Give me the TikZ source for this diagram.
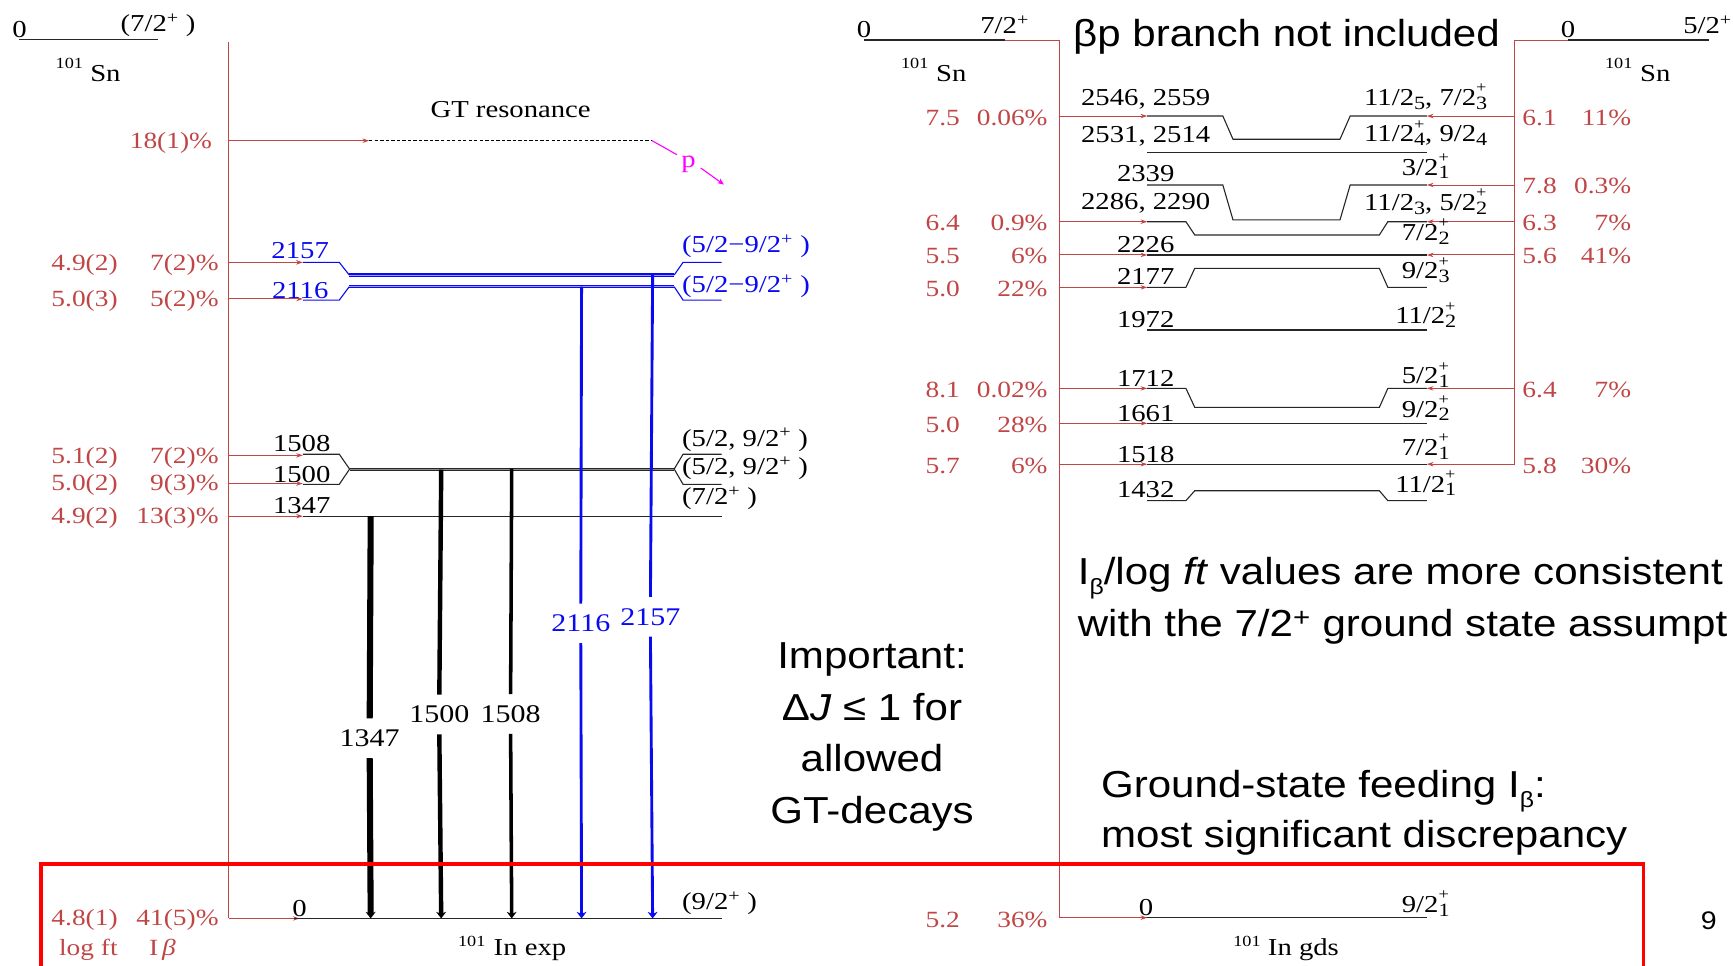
\documentclass[tikz,border=0pt]{standalone}
\usepackage{fontspec}
\setmainfont{Liberation Serif}
\newfontfamily\serfont[FakeStretch=1.18]{Liberation Serif}
\newfontfamily\sanfont[FakeStretch=1.12]{Liberation Sans}
\usetikzlibrary{arrows.meta}
\definecolor{rd}{RGB}{192,70,70}
\definecolor{bl}{RGB}{10,10,240}
\definecolor{mg}{RGB}{255,0,255}
\definecolor{boxred}{RGB}{255,0,0}
\newcommand{\jsp}[2]{\makebox[0pt][l]{\raisebox{0.52em}{\fontsize{14}{14}\selectfont #1}}\raisebox{-3.5pt}{\fontsize{17}{17}\selectfont #2}}
\newcommand{\jsb}[1]{\raisebox{-3.5pt}{\fontsize{17}{17}\selectfont #1}}
\begin{document}
\begin{tikzpicture}[x=1pt,y=-1pt,
  lbl/.style={font=\serfont\fontsize{22}{24}\selectfont, inner sep=0pt},
  sml/.style={font=\serfont\fontsize{14}{14}\selectfont, inner sep=0pt},
  rl/.style={font=\serfont\fontsize{21}{24}\selectfont, inner sep=0pt, text=rd},
  feed/.style={draw=rd, line width=0.9pt, -{Stealth[length=6pt,width=4pt]}},
  redl/.style={draw=rd, line width=0.9pt},
  lv/.style={draw=black!85, line width=1pt},
  lvdbl/.style={draw=black!85, double=black!45, double distance=0.8pt, line width=1pt},
  blv/.style={draw=bl, line width=1pt},
  bldbl/.style={draw=bl, double=bl!40, double distance=0.8pt, line width=1pt},
  gam/.style={line width=3.2pt, -{Stealth[length=6pt,width=9pt]}},
  gamtop/.style={line width=3.2pt},
  glab/.style={font=\serfont\fontsize{23}{24}\selectfont, inner xsep=1pt, inner ysep=10pt},
  big/.style={font=\sanfont\fontsize{34}{40}\selectfont, inner sep=0pt},
  spin/.style={lbl, anchor=base},
]
\useasboundingbox (0,0) rectangle (1568,874);

% ================= LEFT PANEL =================
\node[lbl] (ls0) at (17.6,27) {0};
\draw[lv] (17.6,36) -- (143,36);
\node[lbl] (lsj) at (143,22.6) {(7/2\textsuperscript{+} )};
\node[sml] (lsa) at (62.8,57.3) {101};
\node[lbl] (lsn) at (95.4,66.3) {Sn};
\draw[redl] (207,38) -- (207,831);

\node[lbl] (gt) at (462,99) {GT resonance};
\node[rl, anchor=east] (f18) at (192,129) {18(1)\%};
\coordinate (gtA) at (207,127.3);
\coordinate (gtB) at (334,127.3);
\coordinate (gtC) at (590,127.3);
\draw[feed] (gtA) -- (gtB);
\draw[densely dashed, line width=0.8pt] (gtB) -- (gtC);
\draw[mg, line width=1pt] (gtC) -- (612.5,140);
\node[lbl, text=mg] (pp) at (623,149) {p};
\draw[mg, line width=1pt, -{Stealth[length=6pt,width=5pt]}] (634,152) -- (655,167);

% blue levels
\draw[feed] (207,237.4) -- (274,237.4);
\draw[blv] (274,237.4) -- (307,237.4) -- (316,248.8);
\draw[bldbl] (316,248.8) -- (610,248.8);
\draw[blv] (610,248.8) -- (618,237.4) -- (653,237.4);
\draw[feed] (207,270.5) -- (274,270.5);
\draw[blv] (274,271.5) -- (307,271.5) -- (316,259.4);
\draw[bldbl] (316,259.4) -- (610,259.4);
\draw[blv] (610,259.4) -- (618,271.5) -- (653,271.5);
\node[lbl, text=bl] (l2157) at (271.6,226.5) {2157};
\node[lbl, text=bl] (l2116) at (271.6,262.5) {2116};
\node[lbl, text=bl, anchor=west] (j2157) at (617,223) {(5/2−9/2\textsuperscript{+} )};
\node[lbl, text=bl, anchor=west] (j2116) at (617,259) {(5/2−9/2\textsuperscript{+} )};

% black levels
\draw[feed] (207,412) -- (274,412);
\draw[feed] (207,437.5) -- (274,437.5);
\draw[lv] (274,411) -- (307,411) -- (316.3,424.4) -- (307,438.2) -- (274,438.2);
\draw[lvdbl] (316.3,424.4) -- (610,424.4);
\draw[lv] (653,411) -- (618,411) -- (610,424.4) -- (618,438.2) -- (653,438.2);
\draw[feed] (207,467) -- (274,467);
\draw[lv] (274,467) -- (653,467);
\node[lbl] (l1508) at (273,401.7) {1508};
\node[lbl] (l1500) at (273,429.5) {1500};
\node[lbl] (l1347) at (273,457.5) {1347};
\node[lbl, anchor=west] (j1508) at (617,398) {(5/2, 9/2\textsuperscript{+} )};
\node[lbl, anchor=west] (j1500) at (617,424) {(5/2, 9/2\textsuperscript{+} )};
\node[lbl, anchor=west] (j1347) at (617,451) {(7/2\textsuperscript{+} )};

% ground state In exp
\draw[feed] (207,831) -- (271,831);
\draw[lv] (266,831) -- (653,831);
\node[lbl] (l0) at (271,822) {0};
\node[lbl, anchor=west] (j0) at (617,817) {(9/2\textsuperscript{+} )};
\node[sml] (ina) at (426.8,852) {101};
\node[lbl] (inb) at (479.5,859.6) {In exp};

% gamma transitions
\node[glab] (g1347) at (334.5,668) {1347};
\draw[gamtop, line width=5.5pt] (335.4,467) -- (g1347.north);
\draw[gam, line width=5.5pt] (g1347.south) -- (335.4,831);
\node[glab] (g1500) at (397.5,646.5) {1500};
\draw[gamtop, line width=4pt] (399.2,425) -- (g1500.north);
\draw[gam, line width=4pt] (g1500.south) -- (399.2,831);
\node[glab] (g1508) at (462,646) {1508};
\draw[gamtop] (463,424) -- (g1508.north);
\draw[gam] (g1508.south) -- (463,831);
\node[glab, text=bl] (g2116) at (525.5,564) {2116};
\draw[gamtop, bl, line width=2.6pt] (526.2,259.4) -- (g2116.north);
\draw[gam, bl, line width=2.6pt] (g2116.south) -- (526.2,831);
\node[glab, text=bl] (g2157) at (588.5,558) {2157};
\draw[gamtop, bl, line width=2.6pt] (590.5,248.8) -- (g2157.north);
\draw[gam, bl, line width=2.6pt] (g2157.south) -- (590.5,831);

% left red labels
\foreach \y/\a/\b in {239.5/4.9(2)/7(2)\%, 272/5.0(3)/5(2)\%, 414/5.1(2)/7(2)\%, 439/5.0(2)/9(3)\%, 469/4.9(2)/13(3)\%, 832/4.8(1)/41(5)\%}{
  \node[rl] at (76.5,\y) {\a};
  \node[rl, anchor=east] at (198,\y) {\b};
}
\node[rl] (lgft) at (80,859.6) {log ft};
\node[rl] (ibeta) at (147,859.6) {I\,\textit{β}};

% ================= RIGHT PANEL =================
\node[lbl] (rs0) at (781.8,27) {0};
\draw[lv] (781.8,36.2) -- (909,36.2);
\draw[redl] (909,36.2) -- (959,36.2) -- (959,830.3);
\node[lbl] (rsj) at (909,22.6) {7/2\textsuperscript{+}};
\node[sml] (rsa) at (827.7,57.3) {101};
\node[lbl] (rsn) at (860.8,66.3) {Sn};

\node[lbl] (gs0) at (1418.8,27) {0};
\draw[lv] (1418.8,36.2) -- (1546,36.2);
\draw[redl] (1418.8,36.2) -- (1370.3,36.2) -- (1370.3,420);
\node[lbl] (gsj) at (1545,22.6) {5/2\textsuperscript{+}};
\node[sml] (gsa) at (1464.6,57.3) {101};
\node[lbl] (gsn) at (1497.7,66.3) {Sn};

\node[big, anchor=base] (bp) at (1164,42) {βp branch not included};

% level lines
\draw[lv] (1038,105) -- (1106.4,105) -- (1115.6,126) -- (1212.4,126) -- (1221.6,105) -- (1291,105);
\draw[lv] (1038,138) -- (1291,138);
\draw[lv] (1038,167.4) -- (1106.4,167.4) -- (1115.6,199) -- (1212.4,199) -- (1221.6,167.4) -- (1291,167.4);
\draw[lv] (1038,200.6) -- (1073,200.6) -- (1081,212.6) -- (1248,212.6) -- (1255.7,200.6) -- (1291,200.6);
\draw[lv] (1038,230.7) -- (1291,230.7);
\draw[lv] (1038,260) -- (1073,260) -- (1081,242.8) -- (1248,242.8) -- (1255.7,260) -- (1291,260);
\draw[lv] (1038,298.6) -- (1291,298.6);
\draw[lv] (1038,351.4) -- (1073,351.4) -- (1081,368.6) -- (1248,368.6) -- (1255.7,351.4) -- (1291,351.4);
\draw[lv] (1038,383) -- (1291,383);
\draw[lv] (1038,420) -- (1291,420);
\draw[lv] (1038,453) -- (1073,453) -- (1081,444) -- (1248,444) -- (1255.7,453) -- (1291,453);
\draw[lv] (1035,830.3) -- (1291,830.3);

% feeding arrows
\foreach \y in {105,200.6,230.7,260,351.4,383,420,830.3}{
  \draw[feed] (959,\y) -- (1038,\y);
}
\foreach \y in {105,167.4,200.6,230.7,351.4,420}{
  \draw[feed] (1370.3,\y) -- (1291,\y);
}

% level labels
\foreach \y/\t in {89.6/{2546, 2559}, 123/{2531, 2514}, 157.4/2339, 184/{2286, 2290}, 221.7/2226, 250/2177, 289.5/1972, 342.3/1712, 374/1661, 411.7/1518, 442.7/1432}{
  \node[lbl] at (1036.6,\y) {\t};
}
\node[lbl] (r0) at (1037,821) {0};
\node[spin] (s1) at (1290,95.4) {11/2\jsb{5}, 7/2\jsp{+}{3}};
\node[spin] (s2) at (1290,128.4) {11/2\jsp{+}{4}, 9/2\jsb{4}};
\node[spin] (s3) at (1290,158.4) {3/2\jsp{+}{1}};
\node[spin] (s4) at (1290,190.4) {11/2\jsb{3}, 5/2\jsp{+}{2}};
\node[spin] (s5) at (1290,217.4) {7/2\jsp{+}{2}};
\node[spin] (s6) at (1290,252.2) {9/2\jsp{+}{3}};
\node[spin] (s7) at (1290,292.9) {11/2\jsp{+}{2}};
\node[spin] (s8) at (1290,347.2) {5/2\jsp{+}{1}};
\node[spin] (s9) at (1290,377.4) {9/2\jsp{+}{2}};
\node[spin] (s10) at (1290,412) {7/2\jsp{+}{1}};
\node[spin] (s11) at (1290,445.2) {11/2\jsp{+}{1}};
\node[spin] (s12) at (1290,825.4) {9/2\jsp{+}{1}};
\node[sml] (gda) at (1128.3,852) {101};
\node[lbl] (gdb) at (1179.3,859.6) {In gds};

% red labels right panel
\foreach \y/\a/\b in {106.5/7.5/0.06\%, 202/6.4/0.9\%, 232/5.5/6\%, 261.5/5.0/22\%, 353/8.1/0.02\%, 384.5/5.0/28\%, 421.5/5.7/6\%, 832/5.2/36\%}{
  \node[rl] at (853,\y) {\a};
  \node[rl, anchor=east] at (948,\y) {\b};
}
\foreach \y/\a/\b in {106.5/6.1/11\%, 168.3/7.8/0.3\%, 202/6.3/7\%, 232/5.6/41\%, 353/6.4/7\%, 421.5/5.8/30\%}{
  \node[rl] at (1393,\y) {\a};
  \node[rl, anchor=east] at (1476,\y) {\b};
}

% ================= TEXT BLOCKS =================
\node[big, anchor=base west] (t1) at (975,529) {I\raisebox{-0.25em}{\fontsize{20}{20}\selectfont β}/log \textit{ft} values are more consistent};
\node[big, anchor=base west] (t2) at (975,576) {with the 7/2\textsuperscript{+} ground state assumpt};
\node[big, anchor=base] (i1) at (789,604.5) {Important:};
\node[big, anchor=base] (i2) at (789,651.5) {Δ\textit{J} ≤ 1 for};
\node[big, anchor=base] (i3) at (789,698) {allowed};
\node[big, anchor=base] (i4) at (789,745) {GT-decays};
\node[big, anchor=base west] (g1) at (996,722) {Ground-state feeding I\raisebox{-0.25em}{\fontsize{20}{20}\selectfont β}:};
\node[big, anchor=base west] (g2) at (996,767) {most significant discrepancy};
\node[font=\sanfont\fontsize{23}{24}\selectfont, inner sep=0pt, anchor=base] (pg) at (1546,841) {9};

% red box
\draw[boxred, line width=3.5pt] (37,880) -- (37,782) -- (1487,782) -- (1487,880);
\end{tikzpicture}
\end{document}
